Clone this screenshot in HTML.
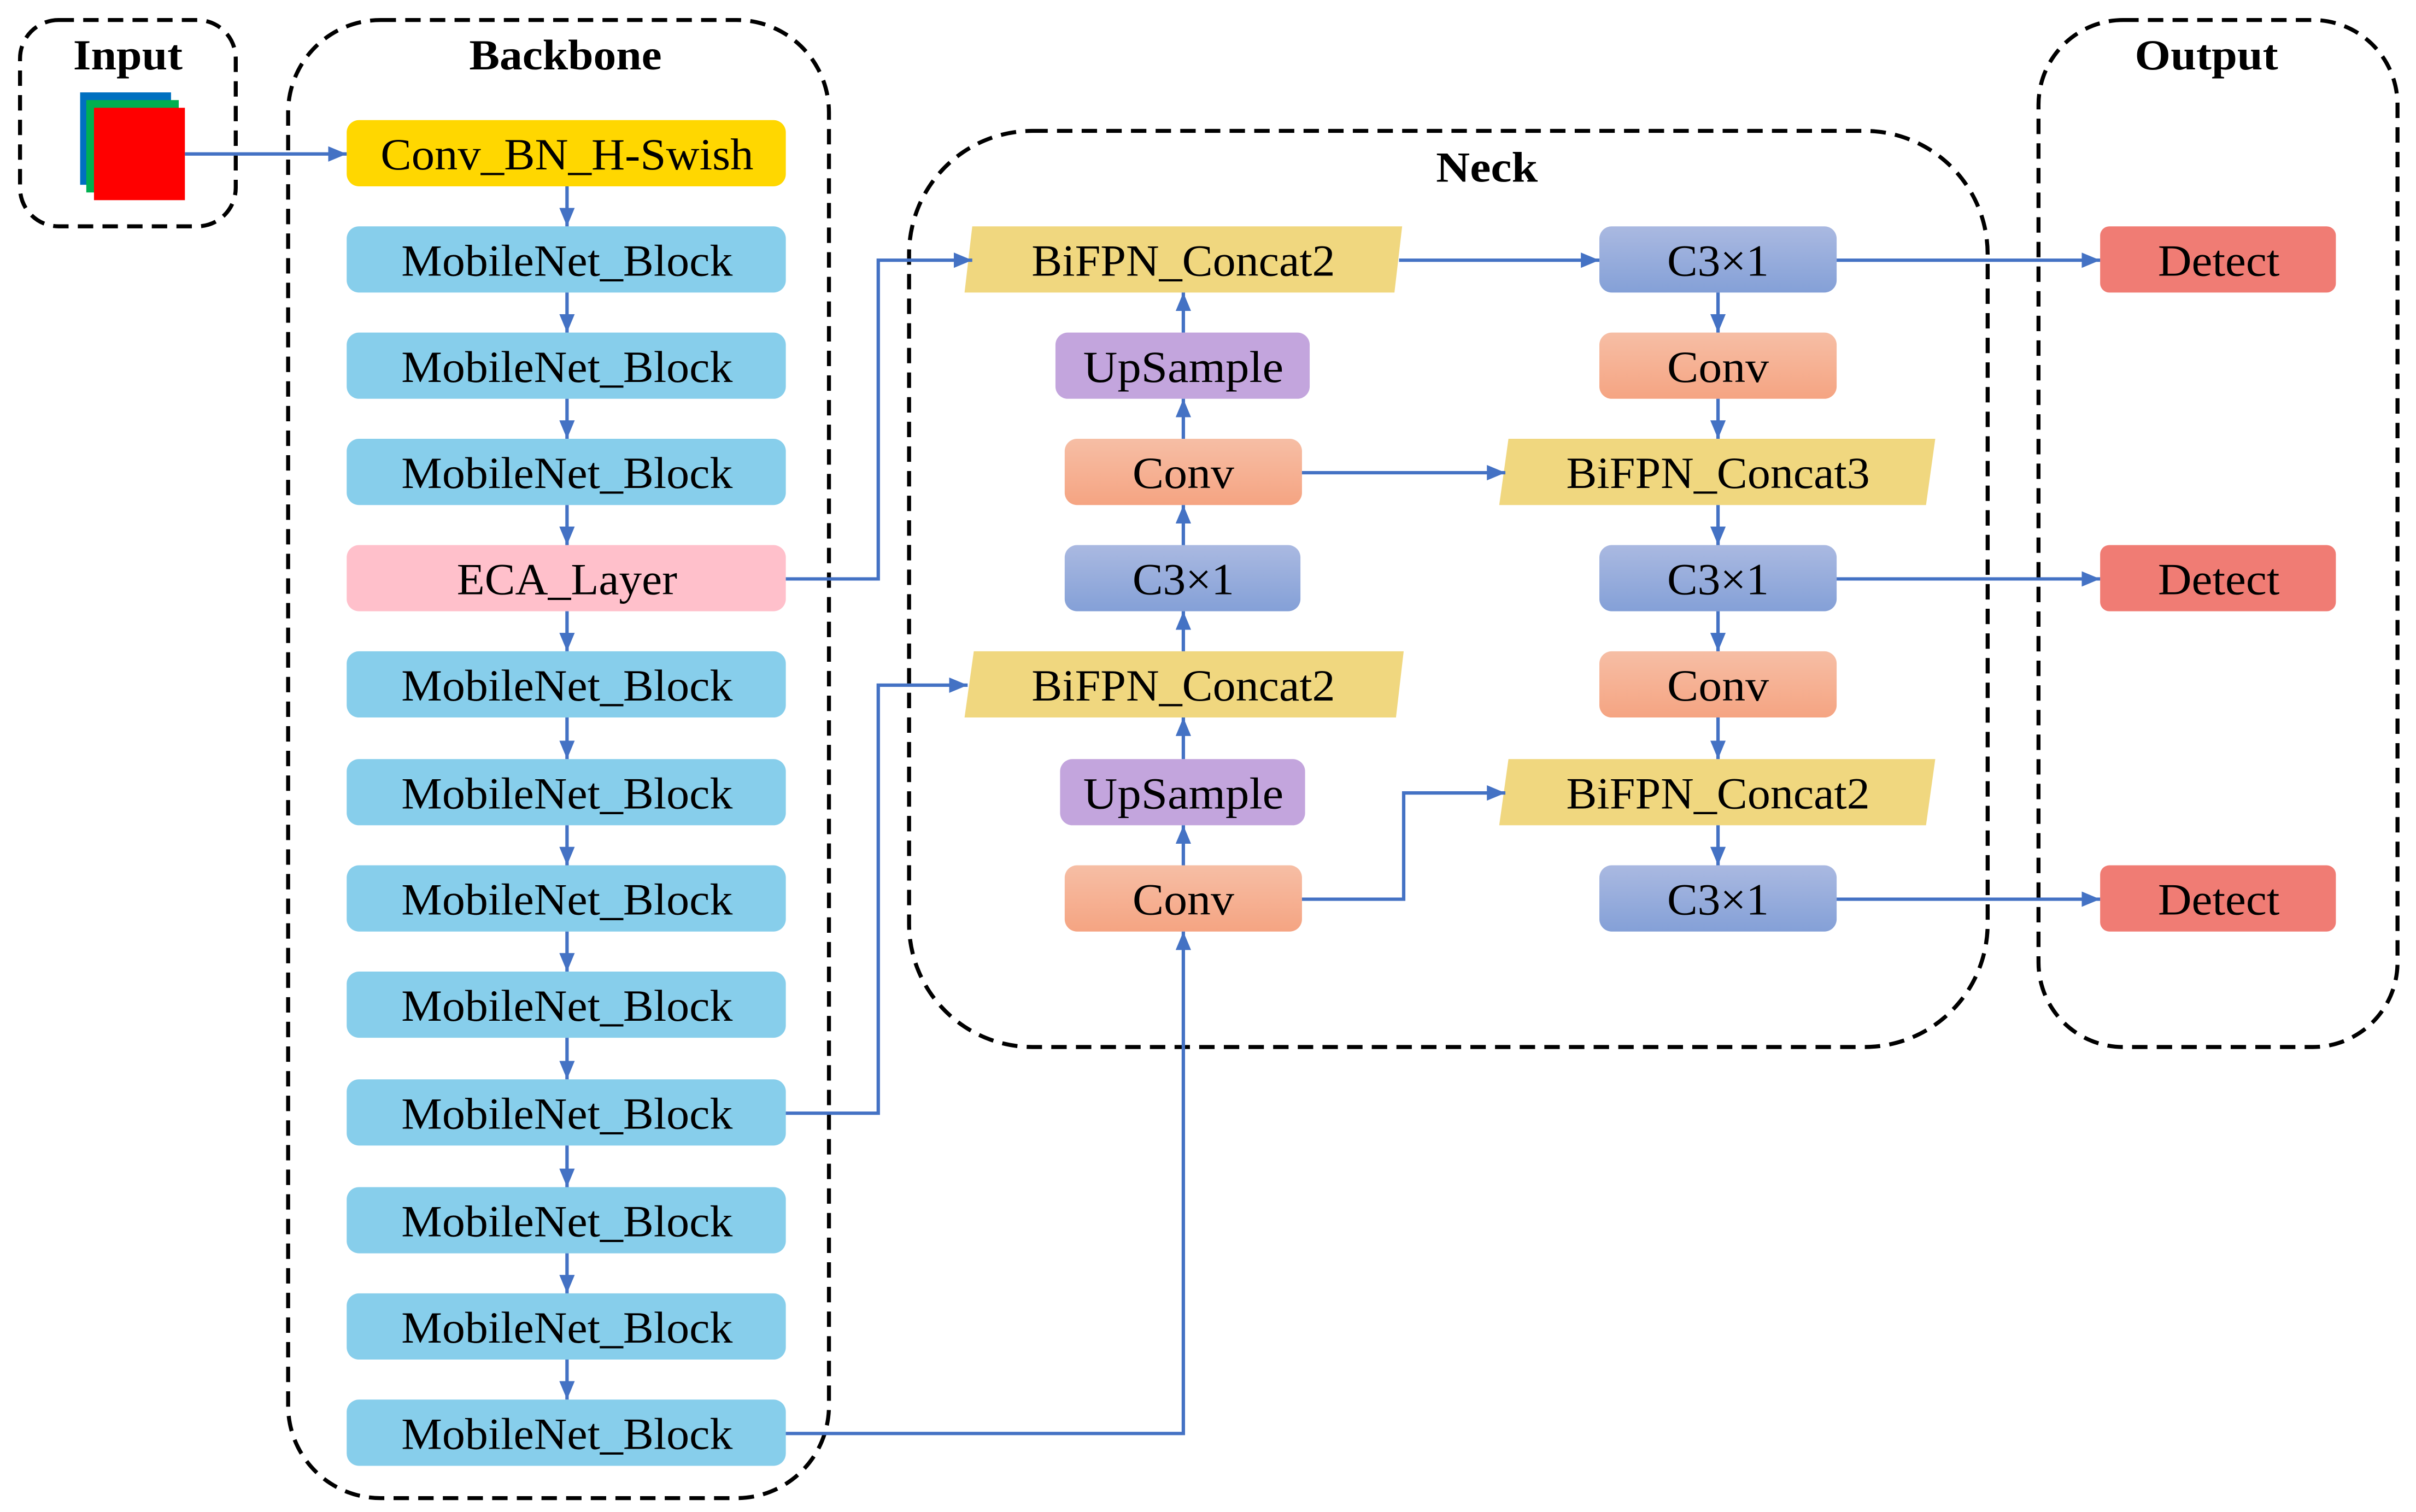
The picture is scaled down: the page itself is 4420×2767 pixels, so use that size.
<!DOCTYPE html>
<html><head><meta charset="utf-8"><style>html,body{margin:0;padding:0;background:#fff}svg{display:block}</style></head>
<body>
<svg xmlns="http://www.w3.org/2000/svg" width="4420" height="2767" viewBox="0 0 1568 982" preserveAspectRatio="none">
<defs>
<linearGradient id="gc" x1="0" y1="0" x2="0" y2="1"><stop offset="0" stop-color="#F6BEA5"/><stop offset="1" stop-color="#F5A482"/></linearGradient>
<linearGradient id="gb" x1="0" y1="0" x2="0" y2="1"><stop offset="0" stop-color="#AAB9E1"/><stop offset="1" stop-color="#84A0D7"/></linearGradient>
<marker id="a" markerWidth="12" markerHeight="10" refX="12" refY="5" orient="auto" markerUnits="userSpaceOnUse"><path d="M0,0 L12,5 L0,10 Z" fill="#4472C4"/></marker>
</defs>
<g fill="none" stroke="#000" stroke-width="2.6" stroke-dasharray="10,6">
<rect x="13" y="13" width="140" height="134" rx="25"/>
<rect x="187" y="13" width="351" height="960" rx="60"/>
<rect x="590" y="85" width="700" height="595" rx="80"/>
<rect x="1323" y="13" width="233" height="667" rx="55"/>
</g>
<g font-family="Liberation Serif, serif" font-weight="bold" font-size="28" text-anchor="middle">
<text x="83" y="45" textLength="71" lengthAdjust="spacingAndGlyphs">Input</text>
<text x="367" y="45" textLength="125" lengthAdjust="spacingAndGlyphs">Backbone</text>
<text x="965" y="118" textLength="66" lengthAdjust="spacingAndGlyphs">Neck</text>
<text x="1432" y="45" textLength="93" lengthAdjust="spacingAndGlyphs">Output</text>
</g>
<rect x="52" y="60" width="59" height="60" fill="#0070C0"/>
<rect x="56" y="65" width="60" height="60" fill="#00B050"/>
<rect x="61" y="70" width="59" height="60" fill="#FF0000"/>
<g>
<rect x="225" y="78" width="285" height="43" rx="8" fill="#FFD700"/>
<rect x="225" y="147" width="285" height="43" rx="8" fill="#87CEEB"/>
<rect x="225" y="216" width="285" height="43" rx="8" fill="#87CEEB"/>
<rect x="225" y="285" width="285" height="43" rx="8" fill="#87CEEB"/>
<rect x="225" y="354" width="285" height="43" rx="8" fill="#FFC0CB"/>
<rect x="225" y="423" width="285" height="43" rx="8" fill="#87CEEB"/>
<rect x="225" y="493" width="285" height="43" rx="8" fill="#87CEEB"/>
<rect x="225" y="562" width="285" height="43" rx="8" fill="#87CEEB"/>
<rect x="225" y="631" width="285" height="43" rx="8" fill="#87CEEB"/>
<rect x="225" y="701" width="285" height="43" rx="8" fill="#87CEEB"/>
<rect x="225" y="771" width="285" height="43" rx="8" fill="#87CEEB"/>
<rect x="225" y="840" width="285" height="43" rx="8" fill="#87CEEB"/>
<rect x="225" y="909" width="285" height="43" rx="8" fill="#87CEEB"/>
</g>
<polygon points="631,147 910,147 905,190 626,190" fill="#F0D77F"/>
<rect x="685" y="216" width="165" height="43" rx="8" fill="#C3A5DD"/>
<rect x="691" y="285" width="154" height="43" rx="8" fill="url(#gc)"/>
<rect x="691" y="354" width="153" height="43" rx="8" fill="url(#gb)"/>
<polygon points="632,423 911,423 906,466 626,466" fill="#F0D77F"/>
<rect x="688" y="493" width="159" height="43" rx="8" fill="#C3A5DD"/>
<rect x="691" y="562" width="154" height="43" rx="8" fill="url(#gc)"/>
<rect x="1038" y="147" width="154" height="43" rx="8" fill="url(#gb)"/>
<rect x="1038" y="216" width="154" height="43" rx="8" fill="url(#gc)"/>
<polygon points="979,285 1256,285 1250,328 973,328" fill="#F0D77F"/>
<rect x="1038" y="354" width="154" height="43" rx="8" fill="url(#gb)"/>
<rect x="1038" y="423" width="154" height="43" rx="8" fill="url(#gc)"/>
<polygon points="979,493 1256,493 1250,536 973,536" fill="#F0D77F"/>
<rect x="1038" y="562" width="154" height="43" rx="8" fill="url(#gb)"/>
<rect x="1363" y="147" width="153" height="43" rx="6" fill="#F07C74"/>
<rect x="1363" y="354" width="153" height="43" rx="6" fill="#F07C74"/>
<rect x="1363" y="562" width="153" height="43" rx="6" fill="#F07C74"/>
<g fill="none" stroke="#4472C4" stroke-width="2.2" marker-end="url(#a)">
<path d="M120,100 H225"/>
<path d="M368,121 V147"/><path d="M368,190 V216"/><path d="M368,259 V285"/><path d="M368,328 V354"/>
<path d="M368,397 V423"/><path d="M368,466 V493"/><path d="M368,536 V562"/><path d="M368,605 V631"/>
<path d="M368,674 V701"/><path d="M368,744 V771"/><path d="M368,814 V840"/><path d="M368,883 V909"/>
<path d="M510,376 H570 V169 H631"/>
<path d="M510,723 H570 V445 H628"/>
<path d="M510,931 H768 V605"/>
<path d="M768,562 V536"/><path d="M768,493 V466"/><path d="M768,423 V397"/><path d="M768,354 V328"/><path d="M768,285 V259"/><path d="M768,216 V190"/>
<path d="M908,169 H1038"/>
<path d="M845,307 H977"/>
<path d="M845,584 H911 V515 H977"/>
<path d="M1115,190 V216"/><path d="M1115,259 V285"/><path d="M1115,328 V354"/><path d="M1115,397 V423"/><path d="M1115,466 V493"/><path d="M1115,536 V562"/>
<path d="M1192,169 H1363"/><path d="M1192,376 H1363"/><path d="M1192,584 H1363"/>
</g>
<g font-family="Liberation Serif, serif" font-size="29" text-anchor="middle" fill="#000">
<text x="368" y="110" textLength="242" lengthAdjust="spacingAndGlyphs">Conv_BN_H-Swish</text>
<text x="368" y="179" textLength="215" lengthAdjust="spacingAndGlyphs">MobileNet_Block</text>
<text x="368" y="248" textLength="215" lengthAdjust="spacingAndGlyphs">MobileNet_Block</text>
<text x="368" y="317" textLength="215" lengthAdjust="spacingAndGlyphs">MobileNet_Block</text>
<text x="368" y="386" textLength="143" lengthAdjust="spacingAndGlyphs">ECA_Layer</text>
<text x="368" y="455" textLength="215" lengthAdjust="spacingAndGlyphs">MobileNet_Block</text>
<text x="368" y="525" textLength="215" lengthAdjust="spacingAndGlyphs">MobileNet_Block</text>
<text x="368" y="594" textLength="215" lengthAdjust="spacingAndGlyphs">MobileNet_Block</text>
<text x="368" y="663" textLength="215" lengthAdjust="spacingAndGlyphs">MobileNet_Block</text>
<text x="368" y="733" textLength="215" lengthAdjust="spacingAndGlyphs">MobileNet_Block</text>
<text x="368" y="803" textLength="215" lengthAdjust="spacingAndGlyphs">MobileNet_Block</text>
<text x="368" y="872" textLength="215" lengthAdjust="spacingAndGlyphs">MobileNet_Block</text>
<text x="368" y="941" textLength="215" lengthAdjust="spacingAndGlyphs">MobileNet_Block</text>
<text x="768" y="179" textLength="197" lengthAdjust="spacingAndGlyphs">BiFPN_Concat2</text>
<text x="768" y="248" textLength="130" lengthAdjust="spacingAndGlyphs">UpSample</text>
<text x="768" y="317" textLength="66" lengthAdjust="spacingAndGlyphs">Conv</text>
<text x="768" y="386" textLength="66" lengthAdjust="spacingAndGlyphs">C3×1</text>
<text x="768" y="455" textLength="197" lengthAdjust="spacingAndGlyphs">BiFPN_Concat2</text>
<text x="768" y="525" textLength="130" lengthAdjust="spacingAndGlyphs">UpSample</text>
<text x="768" y="594" textLength="66" lengthAdjust="spacingAndGlyphs">Conv</text>
<text x="1115" y="179" textLength="66" lengthAdjust="spacingAndGlyphs">C3×1</text>
<text x="1115" y="248" textLength="66" lengthAdjust="spacingAndGlyphs">Conv</text>
<text x="1115" y="317" textLength="197" lengthAdjust="spacingAndGlyphs">BiFPN_Concat3</text>
<text x="1115" y="386" textLength="66" lengthAdjust="spacingAndGlyphs">C3×1</text>
<text x="1115" y="455" textLength="66" lengthAdjust="spacingAndGlyphs">Conv</text>
<text x="1115" y="525" textLength="197" lengthAdjust="spacingAndGlyphs">BiFPN_Concat2</text>
<text x="1115" y="594" textLength="66" lengthAdjust="spacingAndGlyphs">C3×1</text>
<text x="1440" y="179" textLength="79" lengthAdjust="spacingAndGlyphs">Detect</text>
<text x="1440" y="386" textLength="79" lengthAdjust="spacingAndGlyphs">Detect</text>
<text x="1440" y="594" textLength="79" lengthAdjust="spacingAndGlyphs">Detect</text>
</g>
</svg>
</body></html>
